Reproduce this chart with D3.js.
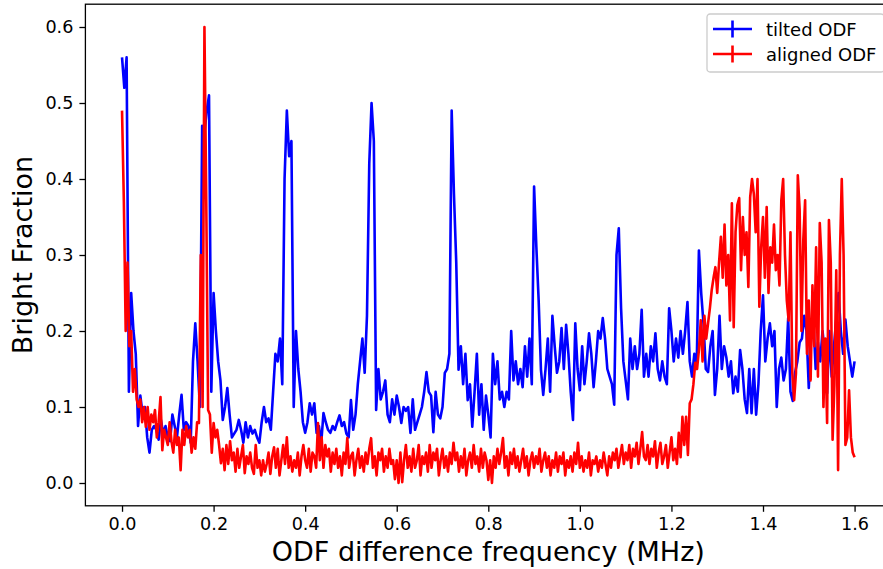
<!DOCTYPE html>
<html>
<head>
<meta charset="utf-8">
<script src="https://cdn.jsdelivr.net/npm/d3@7"></script>
<style>
  body { margin: 0; background: #fff; }
  svg { display: block; font-family: "DejaVu Sans", sans-serif; }
</style>
</head>
<body>
<div id="chart"></div>
<script>
// frequency step of each trace (MHz)
var tiltedStep = 0.005;
var alignedStep = 0.004;

var tiltedODF = [
  0.56,0.52,0.56,0.12,0.25,0.20,0.17,0.075,0.115,0.09,
  0.10,0.06,0.04,0.07,0.075,0.07,0.057,0.083,0.065,0.075,
  0.06,0.055,0.09,0.075,0.06,0.09,0.116,0.07,0.08,0.075,
  0.053,0.16,0.21,0.16,0.10,0.47,0.46,0.49,0.51,0.12,
  0.25,0.20,0.16,0.135,0.083,0.10,0.125,0.09,0.06,0.065,
  0.07,0.083,0.07,0.053,0.08,0.06,0.075,0.065,0.07,0.06,
  0.053,0.08,0.10,0.08,0.085,0.07,0.12,0.17,0.16,0.19,
  0.13,0.40,0.49,0.43,0.45,0.10,0.20,0.15,0.12,0.08,
  0.066,0.08,0.105,0.09,0.105,0.066,0.075,0.052,0.092,0.08,
  0.07,0.066,0.075,0.07,0.08,0.089,0.075,0.08,0.065,0.06,
  0.109,0.07,0.09,0.13,0.16,0.19,0.145,0.22,0.42,0.50,
  0.45,0.096,0.15,0.11,0.12,0.135,0.09,0.08,0.11,0.09,
  0.115,0.10,0.079,0.10,0.095,0.10,0.066,0.11,0.07,0.08,
  0.09,0.10,0.12,0.146,0.12,0.115,0.067,0.12,0.09,0.085,
  0.10,0.145,0.15,0.17,0.49,0.38,0.29,0.149,0.18,0.13,
  0.17,0.109,0.13,0.074,0.12,0.17,0.09,0.13,0.07,0.115,
  0.09,0.06,0.17,0.13,0.16,0.11,0.12,0.10,0.12,0.11,
  0.20,0.135,0.16,0.13,0.15,0.126,0.18,0.14,0.19,0.13,
  0.39,0.31,0.24,0.149,0.116,0.15,0.19,0.12,0.22,0.18,
  0.145,0.16,0.204,0.15,0.208,0.17,0.12,0.083,0.21,0.15,
  0.122,0.18,0.13,0.16,0.197,0.17,0.126,0.16,0.20,0.19,
  0.217,0.19,0.15,0.14,0.13,0.103,0.30,0.335,0.23,0.16,
  0.135,0.11,0.19,0.15,0.18,0.15,0.17,0.228,0.14,0.17,
  0.14,0.18,0.16,0.197,0.15,0.135,0.16,0.14,0.13,0.23,
  0.20,0.16,0.19,0.165,0.20,0.17,0.20,0.238,0.16,0.14,
  0.17,0.15,0.306,0.25,0.21,0.15,0.146,0.18,0.20,0.116,
  0.15,0.22,0.15,0.18,0.165,0.14,0.16,0.118,0.14,0.12,
  0.175,0.15,0.11,0.092,0.15,0.092,0.15,0.09,0.13,0.20,
  0.247,0.16,0.19,0.21,0.18,0.20,0.10,0.15,0.165,0.135,
  0.15,0.217,0.12,0.108,0.145,0.16,0.185,0.19,0.22,0.20,
  0.125,0.19,0.215,0.15,0.185,0.16,0.20,0.17,0.118,0.20,
  0.14,0.18,0.215,0.25,0.20,0.17,0.215,0.18,0.16,0.14,0.16
];

var alignedODF = [
  0.49,0.37,0.20,0.29,0.18,0.20,0.12,0.15,0.11,0.10,
  0.11,0.08,0.10,0.074,0.10,0.07,0.09,0.08,0.096,0.06,
  0.08,0.113,0.043,0.07,0.06,0.05,0.08,0.055,0.04,0.07,
  0.05,0.06,0.017,0.07,0.05,0.075,0.06,0.07,0.04,0.06,
  0.045,0.08,0.079,0.30,0.10,0.60,0.37,0.096,0.09,0.04,
  0.079,0.06,0.07,0.05,0.026,0.045,0.017,0.05,0.025,0.055,
  0.03,0.04,0.015,0.045,0.02,0.035,0.05,0.013,0.035,0.025,
  0.04,0.02,0.012,0.05,0.02,0.03,0.01,0.03,0.015,0.025,
  0.04,0.012,0.035,0.047,0.02,0.045,0.01,0.03,0.05,0.025,
  0.06,0.02,0.035,0.015,0.03,0.02,0.04,0.01,0.035,0.05,
  0.03,0.02,0.045,0.015,0.04,0.035,0.02,0.079,0.03,0.06,
  0.02,0.05,0.035,0.045,0.015,0.04,0.025,0.045,0.02,0.035,
  0.01,0.04,0.025,0.059,0.02,0.035,0.04,0.01,0.03,0.045,
  0.02,0.035,0.015,0.04,0.025,0.045,0.059,0.02,0.035,0.01,
  0.04,0.03,0.045,0.015,0.035,0.02,0.045,0.025,0.03,0.005,
  0.03,0.0,0.04,0.001,0.03,0.05,0.02,0.035,0.015,0.045,
  0.02,0.03,0.05,0.01,0.035,0.025,0.04,0.015,0.05,0.02,
  0.04,0.03,0.045,0.01,0.03,0.045,0.02,0.035,0.015,0.04,
  0.025,0.053,0.03,0.04,0.015,0.035,0.02,0.045,0.01,0.03,
  0.04,0.02,0.05,0.025,0.035,0.015,0.045,0.02,0.04,0.03,
  0.004,0.03,0.0,0.035,0.02,0.045,0.025,0.04,0.059,0.02,
  0.035,0.01,0.04,0.025,0.045,0.02,0.035,0.015,0.03,0.045,
  0.02,0.035,0.01,0.03,0.04,0.02,0.035,0.025,0.045,0.015,
  0.03,0.04,0.02,0.035,0.01,0.03,0.02,0.04,0.015,0.035,
  0.025,0.04,0.01,0.03,0.02,0.035,0.015,0.04,0.025,0.053,
  0.02,0.035,0.015,0.03,0.02,0.04,0.01,0.03,0.025,0.035,
  0.015,0.03,0.02,0.04,0.025,0.01,0.035,0.02,0.04,0.03,
  0.045,0.02,0.035,0.05,0.025,0.04,0.03,0.05,0.02,0.045,
  0.035,0.053,0.025,0.045,0.067,0.035,0.03,0.05,0.025,0.045,
  0.035,0.055,0.02,0.04,0.053,0.025,0.035,0.05,0.02,0.04,
  0.06,0.03,0.045,0.025,0.066,0.034,0.087,0.05,0.087,0.037,
  0.105,0.11,0.13,0.158,0.15,0.175,0.214,0.16,0.22,0.19,
  0.21,0.23,0.254,0.27,0.284,0.25,0.29,0.324,0.27,0.34,
  0.26,0.30,0.214,0.368,0.205,0.33,0.366,0.375,0.28,0.35,
  0.30,0.33,0.258,0.376,0.40,0.38,0.33,0.40,0.232,0.31,
  0.35,0.27,0.363,0.25,0.31,0.29,0.34,0.28,0.30,0.26,
  0.372,0.40,0.30,0.24,0.214,0.33,0.145,0.109,0.145,0.405,
  0.36,0.20,0.32,0.372,0.17,0.24,0.135,0.26,0.18,0.31,
  0.14,0.342,0.29,0.10,0.19,0.079,0.346,0.29,0.057,0.13,
  0.28,0.017,0.30,0.40,0.30,0.05,0.06,0.122,0.06,0.04,
  0.034
];

var xTicks = [0, 0.2, 0.4, 0.6, 0.8, 1.0, 1.2, 1.4, 1.6];
var yTicks = [0, 0.1, 0.2, 0.3, 0.4, 0.5, 0.6];

var series = [
  { name: "tilted ODF", color: "#0000ff", step: tiltedStep, values: tiltedODF },
  { name: "aligned ODF", color: "#ff0000", step: alignedStep, values: alignedODF }
];

var svg = d3.select("#chart")
  .append("svg")
  .attr("width", 883)
  .attr("height", 569);

var plot = { left: 85.4, right: 891.2, top: 4.2, bottom: 505.8 };

var x = d3.scaleLinear()
  .domain([-0.08, 1.68])
  .range([plot.left, plot.right]);
var y = d3.scaleLinear()
  .domain([-0.03, 0.63])
  .range([plot.bottom, plot.top]);

var line = d3.line()
  .x(function (d) { return x(d.f); })
  .y(function (d) { return y(d.v); });

series.forEach(function (s) {
  var pts = s.values.map(function (v, i) {
    return { f: i * s.step, v: v };
  });
  svg.append("path")
    .datum(pts)
    .attr("fill", "none")
    .attr("stroke", s.color)
    .attr("stroke-width", 2.6)
    .attr("stroke-linejoin", "round")
    .attr("d", line);
});

// axes
var xAxis = svg.append("g")
  .attr("transform", "translate(0," + plot.bottom + ")")
  .call(d3.axisBottom(x).tickValues(xTicks).tickFormat(d3.format(".1f")).tickSize(6).tickPadding(6));
var yAxis = svg.append("g")
  .attr("transform", "translate(" + plot.left + ",0)")
  .call(d3.axisLeft(y).tickValues(yTicks).tickFormat(d3.format(".1f")).tickSize(6).tickPadding(6));

[xAxis, yAxis].forEach(function (a) {
  a.select(".domain").remove();
  a.selectAll(".tick line").attr("stroke", "#000").attr("stroke-width", 1.3);
  a.selectAll(".tick text")
    .attr("fill", "#000")
    .style("font-family", "DejaVu Sans")
    .style("font-size", "17.6px");
});

svg.append("rect")
  .attr("x", plot.left)
  .attr("y", plot.top)
  .attr("width", plot.right - plot.left)
  .attr("height", plot.bottom - plot.top)
  .attr("fill", "none")
  .attr("stroke", "#000")
  .attr("stroke-width", 1.3);

svg.append("text")
  .attr("x", (plot.left + plot.right) / 2)
  .attr("y", 561)
  .attr("text-anchor", "middle")
  .style("font-size", "27px")
  .text("ODF difference frequency (MHz)");

svg.append("text")
  .attr("transform", "translate(32," + ((plot.top + plot.bottom) / 2) + ") rotate(-90)")
  .attr("text-anchor", "middle")
  .style("font-size", "27px")
  .text("Bright Fraction");

// legend
var legend = svg.append("g").attr("transform", "translate(707,14)");
legend.append("rect")
  .attr("width", 177)
  .attr("height", 58)
  .attr("rx", 3)
  .attr("fill", "#fff")
  .attr("fill-opacity", 0.8)
  .attr("stroke", "#cccccc")
  .attr("stroke-width", 1.3);

series.forEach(function (s, i) {
  var cy = 15 + i * 25;
  legend.append("line")
    .attr("x1", 6).attr("x2", 45)
    .attr("y1", cy).attr("y2", cy)
    .attr("stroke", s.color).attr("stroke-width", 2.6);
  legend.append("line")
    .attr("x1", 25.5).attr("x2", 25.5)
    .attr("y1", cy - 8.5).attr("y2", cy + 8.5)
    .attr("stroke", s.color).attr("stroke-width", 2.6);
  legend.append("text")
    .attr("x", 59)
    .attr("y", cy + 6.5)
    .style("font-size", "18px")
    .text(s.name);
});
</script>
</body>
</html>
